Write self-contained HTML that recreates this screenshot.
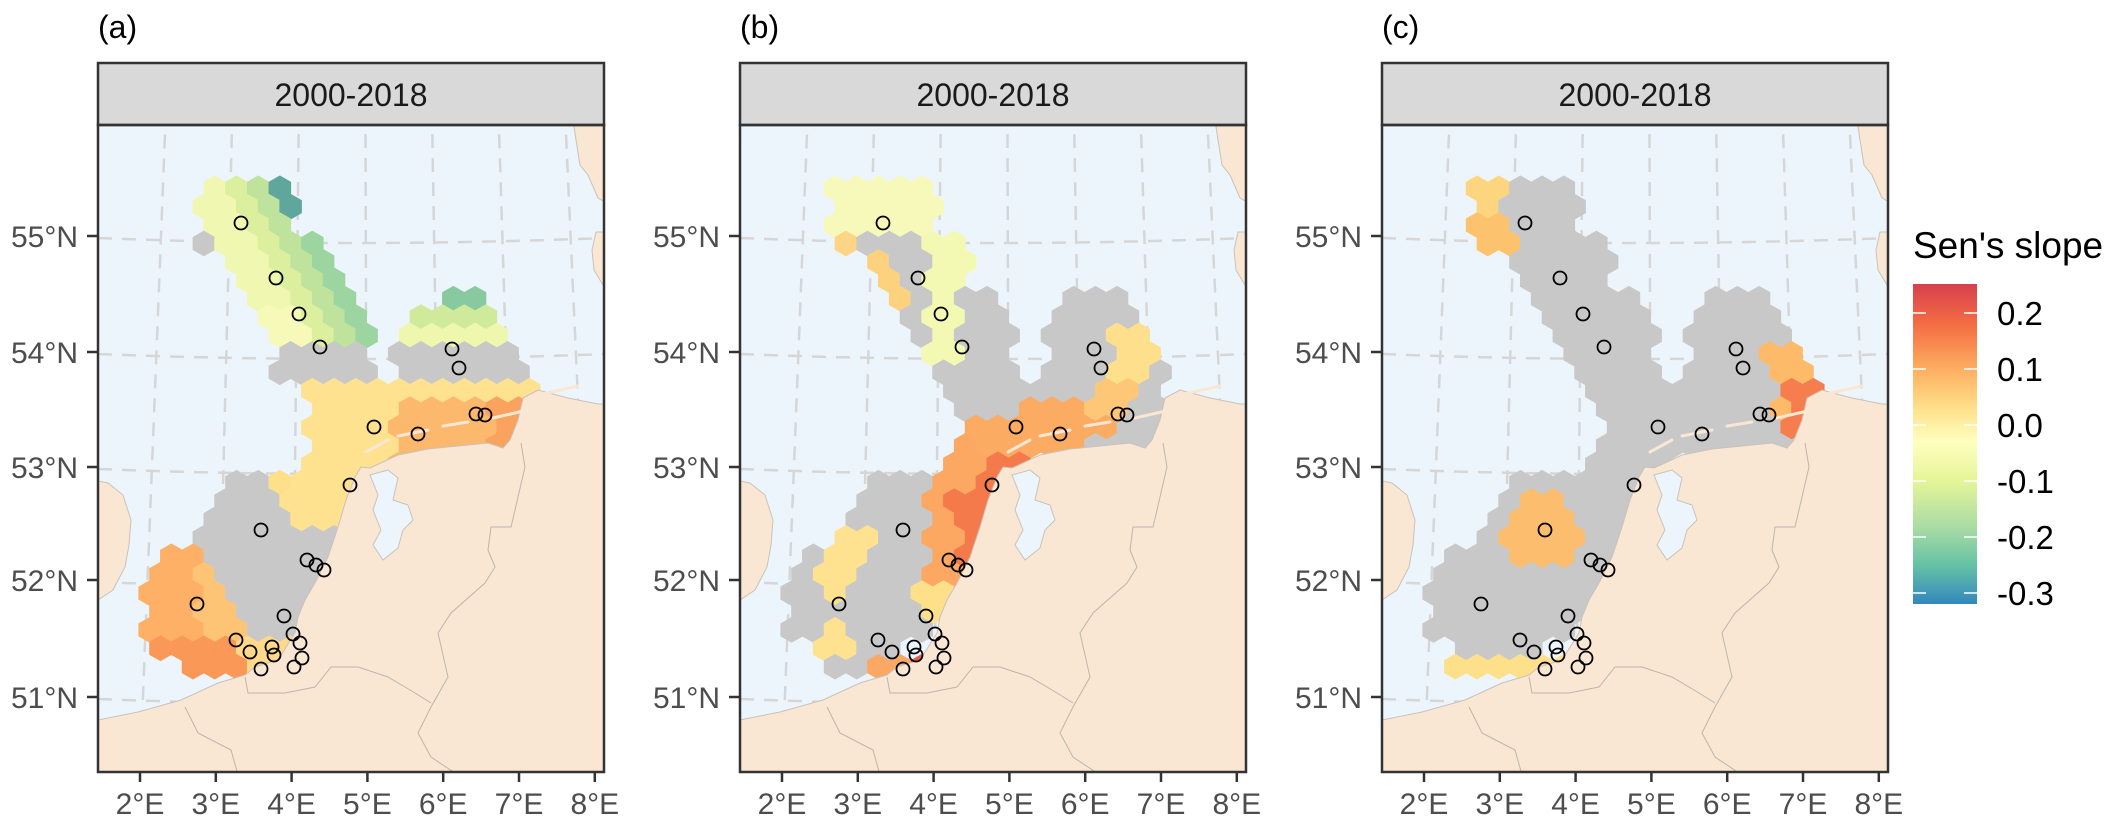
<!DOCTYPE html>
<html><head><meta charset="utf-8">
<style>
html,body{margin:0;padding:0;background:#fff;}
svg{display:block;}
text{font-family:"Liberation Sans",Arial,sans-serif;}
</style></head>
<body>
<svg id="s" xmlns="http://www.w3.org/2000/svg" width="2128" height="824" viewBox="0 0 2128 824">
<defs>
<linearGradient id="cb" x1="0" y1="0" x2="0" y2="1">
<stop offset="0" stop-color="#d6404e"/>
<stop offset="0.126" stop-color="#f46d43"/>
<stop offset="0.266" stop-color="#fdae61"/>
<stop offset="0.388" stop-color="#fee08b"/>
<stop offset="0.493" stop-color="#ffffbf"/>
<stop offset="0.615" stop-color="#e6f598"/>
<stop offset="0.755" stop-color="#abdda4"/>
<stop offset="0.878" stop-color="#66c2a5"/>
<stop offset="1" stop-color="#3288bd"/>
</linearGradient>
<clipPath id="pc"><rect x="0" y="125" width="506" height="647"/></clipPath>
</defs>
<g id="panels"></g>
<text x="1913" y="258" font-size="37" fill="#000">Sen's slope</text>
<rect x="1913" y="284" width="64" height="320" fill="url(#cb)"/>
<g stroke="#fff" stroke-width="1.5">
<line x1="1913" y1="313" x2="1926" y2="313"/><line x1="1964" y1="313" x2="1977" y2="313"/>
<line x1="1913" y1="369" x2="1926" y2="369"/><line x1="1964" y1="369" x2="1977" y2="369"/>
<line x1="1913" y1="425" x2="1926" y2="425"/><line x1="1964" y1="425" x2="1977" y2="425"/>
<line x1="1913" y1="481" x2="1926" y2="481"/><line x1="1964" y1="481" x2="1977" y2="481"/>
<line x1="1913" y1="537" x2="1926" y2="537"/><line x1="1964" y1="537" x2="1977" y2="537"/>
<line x1="1913" y1="593" x2="1926" y2="593"/><line x1="1964" y1="593" x2="1977" y2="593"/>
</g>
<g font-size="33" fill="#000">
<text x="1997" y="325">0.2</text>
<text x="1997" y="381">0.1</text>
<text x="1997" y="437">0.0</text>
<text x="1997" y="493">-0.1</text>
<text x="1997" y="549">-0.2</text>
<text x="1997" y="605">-0.3</text>
</g>
</svg>
<script>
(function(){
var NS="http://www.w3.org/2000/svg";
var GRAY="#c8c8c8";
function T(a){var r=[];for(var i=0;i<a.length;i+=2)r.push([a[i]/3,125+a[i+1]/3]);return r;}
function Z8(a){var r=[];for(var i=0;i<a.length;i+=2)r.push([a[i]/3,400+a[i+1]/3]);return r;}
function L(a){var r=[];for(var i=0;i<a.length;i+=2)r.push([a[i],a[i+1]]);return r;}
function inside(p,x,y){var c=false;for(var i=0,j=p.length-1;i<p.length;j=i++){var xi=p[i][0],yi=p[i][1],xj=p[j][0],yj=p[j][1];if(((yi>y)!=(yj>y))&&(x<(xj-xi)*(y-yi)/(yj-yi)+xi))c=!c;}return c;}
function armColor(x,y){var zx=3*x,zy=3*(y-125);var u=0.84*zx-0.54*zy;
 if(u>330)return "#9dd5a0"; if(u>265)return "#bfe39c"; if(u>200)return "#dcef9f"; return (zy>560?"#f6f9b8":"#eff7b0");}
var bShapes=[
 T([285,325,345,325,345,390,285,390]),
 T([285,155,605,155,605,325,285,325]),
 T([370,375,445,375,505,500,480,560,430,500,370,420]),
 T([545,330,665,330,700,420,655,455,650,560,655,700,630,735,580,700,555,640,580,590,560,520,570,450,540,390]),
 T([1135,620,1205,620,1235,700,1200,760,1160,840,1110,900,1000,900,1040,800,1100,700]),
 T([680,880,940,830,1060,830,1110,900,1000,990,680,990]),
 Z8([640,300,780,170,900,160,880,280,790,290,720,470,650,470]),
 Z8([550,280,700,40,1000,40,1000,120,900,150,780,170,640,300,650,470,720,470,700,530,640,560,600,560,545,540]),
 Z8([540,540,640,540,610,640,540,640]),
 Z8([520,780,660,780,660,840,520,840]),
 Z8([400,770,520,770,520,840,400,840]),
 Z8([220,430,390,380,390,440,340,500,330,560,350,610,300,615,250,520]),
 Z8([245,650,345,650,345,720,300,790,245,760]),
 T([340,325,545,325,560,420,660,440,720,480,790,560,820,640,820,770,910,770,910,560,1010,505,1140,505,1175,590,1240,700,1270,750,1300,990,690,990,560,740,520,700,470,580,380,420]),
 Z8([420,220,560,220,560,560,600,640,560,700,470,780,400,840,270,840,250,780,150,700,150,580,230,440,330,380,350,280])
];
var bColors=["#fdd585","#f6f9b9","#fdd27f","#f3f8b3",
 function(x,y){return y<125+760/3?"#fedf8b":"#fdc777";},
 "#fbab62","#f47a4c","#fca862","#fee08b","#ea5a47","#fca865","#fee28f","#fee28f",GRAY,GRAY];
var zonesB=bShapes.map(function(p,i){return [p,bColors[i]];});
var zonesC=[
 [L([95,180,120,180,120,215,135,215,135,255,95,255]),function(x,y){return y<225?"#fed57f":"#fdc26d";}],
 [L([385,345,420,345,440,400,440,445,395,445]),function(x,y){return (x>400&&y>385)?"#f57d4e":"#fdbb6a";}],
 [L([135,495,190,495,195,545,160,575,125,560,125,510]),"#fdbd6e"],
 [L([70,652,260,652,260,674,70,674]),"#fee08b"],
 [L([250,470,275,470,275,495,250,495]),"#fee28f"]
].concat(bShapes.map(function(p){return [p,GRAY];}));
var zonesA=[
 [T([505,160,605,160,610,290,540,290]),"#5fa69c"],
 [T([280,320,350,320,350,390,280,390]),GRAY],
 [T([1005,505,1145,505,1145,570,1005,570]),"#88c9a0"],
 [T([905,570,1180,570,1180,628,905,628]),"#d0ea9c"],
 [T([930,628,1210,628,1210,676,930,676]),"#eef7ad"],
 [T([900,676,1240,676,1280,792,930,792]),GRAY],
 [T([520,670,800,670,825,790,560,790]),GRAY],
 [T([315,155,575,155,610,250,610,330,665,330,705,400,735,460,765,520,795,580,825,640,825,670,520,670,490,620,460,570,410,490,370,420,340,370,285,290,285,215]),armColor],
 [L([205,386,440,386,440,470,260,500,250,520,190,520,190,475,212,470]),function(x,y){if(x>300&&y>398)return x>390?"#f9a35e":"#fcb86c";return "#fee290";}],
 [L([165,475,190,475,190,492,165,492]),"#fee08b"],
 [L([140,640,240,640,240,672,140,672]),"#fed98a"],
 [L([135,468,200,468,200,520,260,520,260,650,151,648,132,620,116,587,97,553,109,530,128,500]),GRAY],
 [L([70,540,105,540,97,553,116,587,132,620,151,645,151,682,90,682,50,640,50,580]),function(x,y){return y>640?"#f99857":(x>105?"#fdc476":"#fdb066");}]
];
var stations=[[143,223],[178,278],[201,314],[222,347],[354,349],[361,368],[276,427],[320,434],[378,414],[387,415],[252,485],[163,530],[209,560],[218,565],[226,570],[99,604],[186,616],[138,640],[152,652],[195,634],[202,643],[174,647],[176,655],[204,658],[163,669],[196,667]];
var land=[[0,720],[40,712],[83,700],[120,683],[147,675],[157,667],[180,660],[197,633],[200,617],[207,600],[217,583],[230,557],[240,527],[248,500],[257,477],[263,467],[272,468],[285,462],[300,455],[330,449],[360,446],[390,443],[405,448],[412,440],[420,420],[425,398],[440,390],[470,398],[500,404],[520,404],[520,800],[-5,800],[-5,720]];
var ijssel=[[272,475],[290,470],[300,478],[295,500],[310,505],[315,520],[305,530],[300,548],[285,560],[275,545],[283,530],[275,510],[280,495]];
var england=[[-5,480],[10,483],[25,495],[33,520],[31,545],[27,567],[15,590],[0,600],[-5,600]];
var denmark=[[475,120],[478,140],[482,165],[490,175],[500,198],[512,205],[512,120]];
var dk2=[[498,232],[494,250],[496,270],[505,285],[512,285],[512,232]];
var borders=[
 [[423,443],[427,467],[413,527],[393,527],[390,550],[397,567],[387,583],[353,613],[340,633],[350,677],[333,707],[320,733],[333,757],[360,775]],
 [[147,677],[150,693],[187,693],[217,687],[233,667],[260,667],[290,677],[317,693],[333,703]],
 [[87,707],[100,733],[133,750],[140,775]]
];
function el(n,a,p){var e=document.createElementNS(NS,n);for(var k in a)e.setAttribute(k,a[k]);if(p)p.appendChild(e);return e;}
function pts(a){return a.map(function(p){return p[0].toFixed(1)+","+p[1].toFixed(1);}).join(" ");}
var root=document.getElementById("panels");
var panels=[[98,zonesA,"(a)"],[740,zonesB,"(b)"],[1382,zonesC,"(c)"]];
var lonLab=["2°E","3°E","4°E","5°E","6°E","7°E","8°E"];
var latLab=[["55°N",236],["54°N",352],["53°N",467],["52°N",580],["51°N",697]];
var R=12.4,W=21.7,RS=18.4;
panels.forEach(function(P){
 var g=el("g",{transform:"translate("+P[0]+",0)"},root);
 el("text",{x:0,y:38,"font-size":"32",fill:"#000"},g).textContent=P[2];
 var cg=el("g",{"clip-path":"url(#pc)"},g);
 el("rect",{x:0,y:125,width:506,height:647,fill:"#edf5fc"},cg);
 var gl=el("g",{stroke:"#d6d6d6","stroke-width":"2.5",fill:"none","stroke-dasharray":"14 10"},cg);
 for(var k=-1;k<=8;k++){var xb=42+75.8*k;var xt=268+(xb-270)*0.88;el("line",{x1:xb,y1:772,x2:xt,y2:125},gl);}
 [[236],[352],[467],[580],[697]].forEach(function(t){var y=t[0];el("path",{d:"M0 "+(y+2)+" Q253 "+(y+12)+" 506 "+(y+2)},gl);});
 var hg=el("g",{},cg);
 for(var j=-4;j<34;j++){for(var i=-7;i<26;i++){
  var cx=116.7+W*i+((j%2!==0)?W/2:0),cy=188.3+RS*j;
  var Z=P[1],col=null;
  for(var z=0;z<Z.length;z++){if(inside(Z[z][0],cx,cy)){col=Z[z][1];break;}}
  if(!col)continue;
  if(typeof col==="function")col=col(cx,cy);
  var h=[[cx,cy-R],[cx+W/2,cy-R/2],[cx+W/2,cy+R/2],[cx,cy+R],[cx-W/2,cy+R/2],[cx-W/2,cy-R/2]];
  el("polygon",{points:pts(h),fill:col,stroke:col,"stroke-width":"0.8"},hg);
 }}
 var lg=el("g",{fill:"#f9e7d3",stroke:"#c9c2bb","stroke-width":"1"},cg);
 el("polygon",{points:pts(land)},lg);
 el("polygon",{points:pts(england)},lg);
 el("polygon",{points:pts(denmark)},lg);
 el("polygon",{points:pts(dk2)},lg);
 el("polygon",{points:pts(ijssel),fill:"#edf5fc"},lg);
 borders.forEach(function(b){el("polyline",{points:pts(b),fill:"none",stroke:"#bdb5ad","stroke-width":"1"},cg);});
 var ig=el("g",{stroke:"#f9e7d3","stroke-width":"3","stroke-linecap":"round",fill:"none"},cg);
 el("line",{x1:268,y1:452,x2:290,y2:440},ig);el("line",{x1:300,y1:436,x2:330,y2:430},ig);el("line",{x1:345,y1:426,x2:370,y2:422},ig);el("line",{x1:395,y1:418,x2:430,y2:410},ig);el("line",{x1:440,y1:395,x2:480,y2:386},ig);
 var sg=el("g",{fill:"none",stroke:"#000","stroke-width":"1.8"},cg);
 stations.forEach(function(s){el("circle",{cx:s[0],cy:s[1],r:6.5},sg);});
 el("rect",{x:0,y:63,width:506,height:62,fill:"#d9d9d9",stroke:"#333","stroke-width":"2.5"},g);
 el("text",{x:253,y:106,"font-size":"32","text-anchor":"middle",fill:"#1a1a1a"},g).textContent="2000-2018";
 el("rect",{x:0,y:125,width:506,height:647,fill:"none",stroke:"#333","stroke-width":"2.5"},g);
 for(var k=0;k<7;k++){var x=42+75.8*k;el("line",{x1:x,y1:772,x2:x,y2:782,stroke:"#333","stroke-width":"2.5"},g);
  el("text",{x:x,y:814,"font-size":"30","text-anchor":"middle",fill:"#4d4d4d"},g).textContent=lonLab[k];}
 latLab.forEach(function(t){el("line",{x1:-11,y1:t[1],x2:0,y2:t[1],stroke:"#333","stroke-width":"2.5"},g);
  el("text",{x:-20,y:t[1]+11,"font-size":"30","text-anchor":"end",fill:"#4d4d4d"},g).textContent=t[0];});
});
})();
</script>
</body></html>
